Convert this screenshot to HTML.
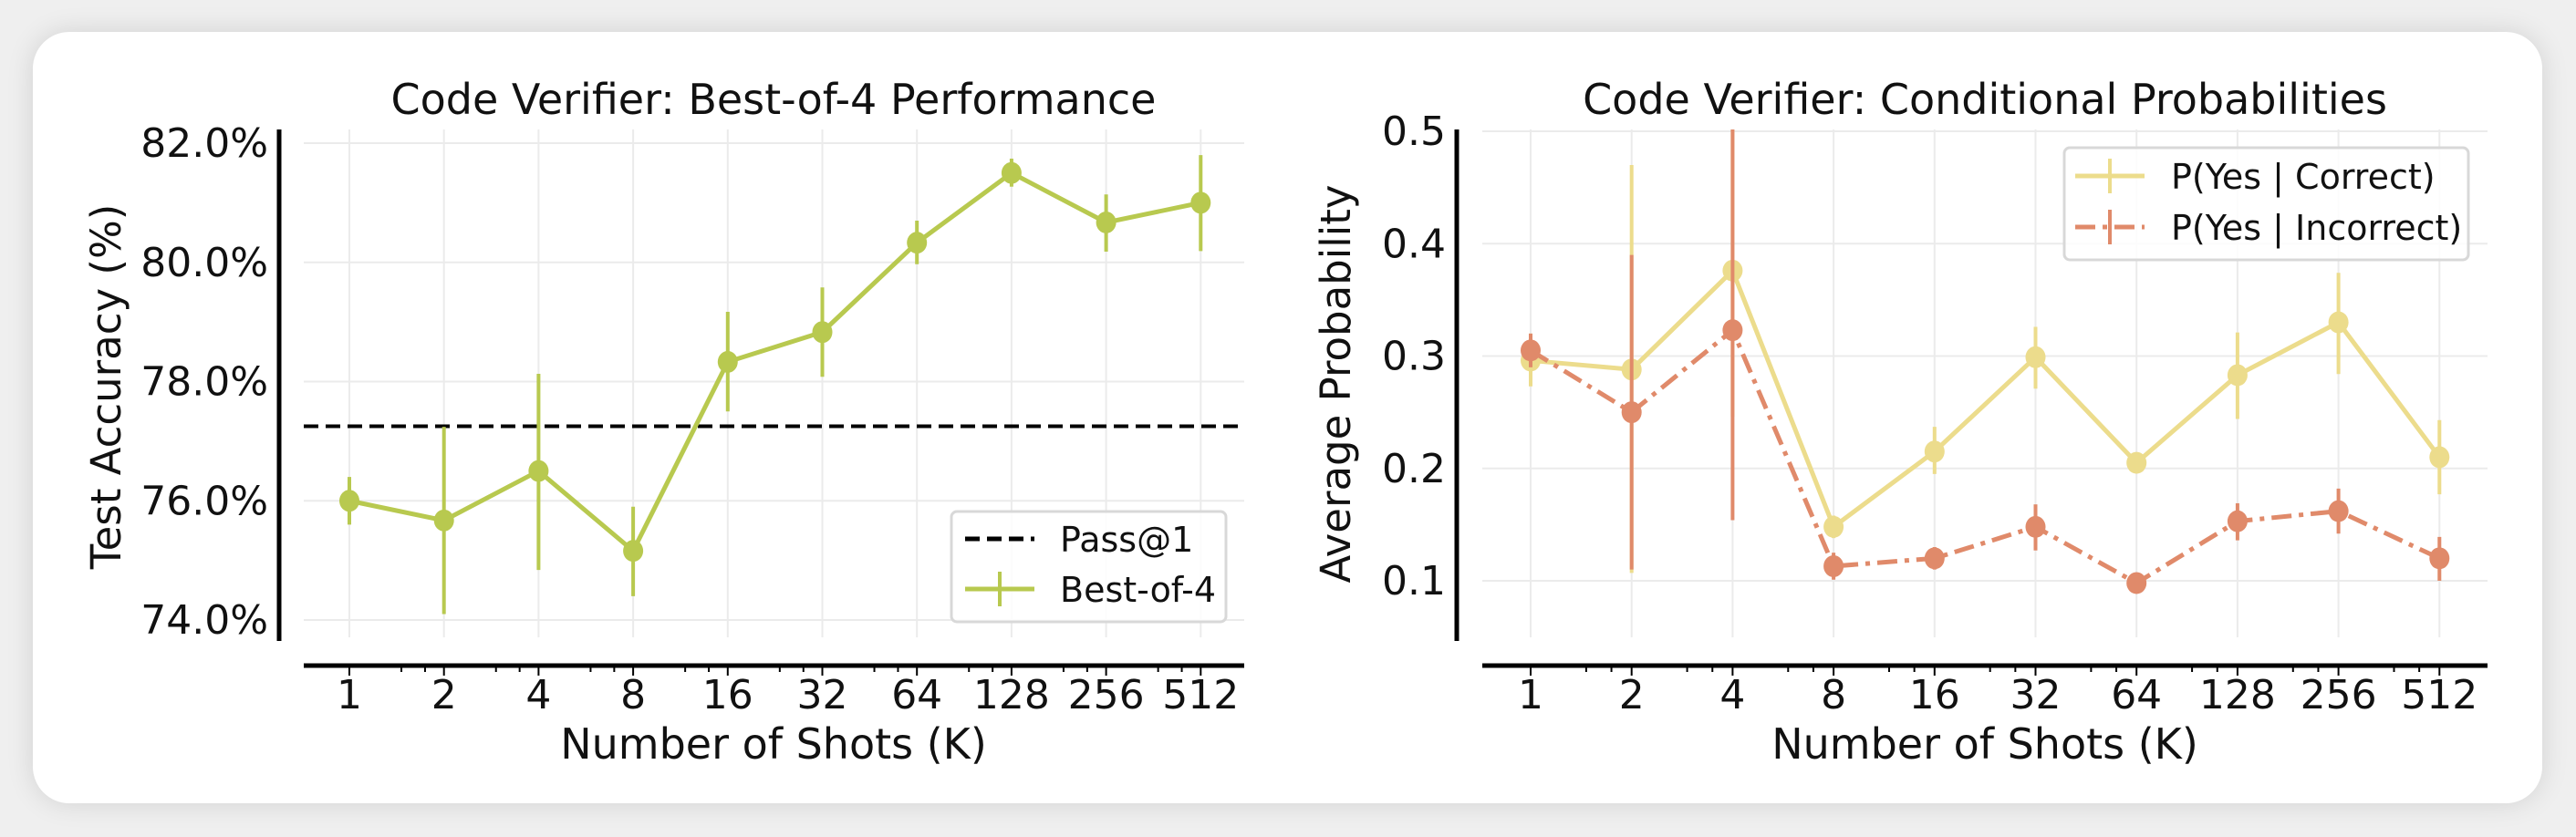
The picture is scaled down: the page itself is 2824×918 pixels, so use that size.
<!DOCTYPE html>
<html><head><meta charset="utf-8"><style>
html,body{margin:0;padding:0;background:#efefef;}
body{width:2824px;height:918px;overflow:hidden;position:relative;font-family:"DejaVu Sans","Liberation Sans",sans-serif;}
#card{position:absolute;left:36px;top:35px;width:2751px;height:846px;background:#fff;border-radius:40px;box-shadow:0 0 30px rgba(0,0,0,0.12);}
svg{position:absolute;left:0;top:0;}
</style></head><body>
<div id="card"></div>
<svg id="chart" width="2824" height="918" font-family="DejaVu Sans, Liberation Sans, sans-serif"></svg>
<script>
const categories=["1","2","4","8","16","32","64","128","256","512"];
const bestOf4=[76.0,75.67,76.5,75.16,78.33,78.83,80.33,81.5,80.67,81.0];
const bestOf4Lo=[75.6,74.1,74.84,74.4,77.5,78.08,79.97,81.27,80.18,80.19];
const bestOf4Hi=[76.4,77.24,78.13,75.9,79.17,79.58,80.7,81.74,81.14,81.8];
const pass1=77.25;
const leftTicks=[74,76,78,80,82];
const pCorrect=[0.296,0.288,0.376,0.148,0.215,0.299,0.205,0.283,0.33,0.21];
const pCorrectLo=[0.273,0.107,0.246,0.138,0.195,0.271,0.197,0.244,0.284,0.177];
const pCorrectHi=[0.32,0.47,0.51,0.158,0.237,0.326,0.213,0.321,0.374,0.243];
const pIncorrect=[0.305,0.25,0.323,0.113,0.12,0.148,0.098,0.153,0.162,0.12];
const pIncorrectLo=[0.29,0.11,0.154,0.101,0.11,0.127,0.093,0.136,0.142,0.10];
const pIncorrectHi=[0.32,0.39,0.51,0.125,0.13,0.168,0.103,0.169,0.182,0.139];
const rightTicks=[0.1,0.2,0.3,0.4,0.5];

const NS="http://www.w3.org/2000/svg";
const svg=document.getElementById('chart');
function mk(tag,attrs,parent){const e=document.createElementNS(NS,tag);for(const k in attrs)e.setAttribute(k,attrs[k]);(parent||svg).appendChild(e);return e;}
function txt(s,attrs){const e=mk('text',attrs);e.textContent=s;return e;}

function panel(o){
  const x=i=>o.x0+i*o.dx;
  const y=v=>o.yBase-(v-o.vBase)*o.ppu;
  const g=mk('g',{});
  
  
  const clipId=o.name+'-clip';
  const cp=mk('clipPath',{id:clipId},svg);mk('rect',{x:o.ax0,y:o.top,width:o.ax1-o.ax0,height:o.bottom-o.top},cp);
  categories.forEach((c,i)=>{const l=mk('line',{x1:x(i),x2:x(i),y1:o.top,y2:o.bottom-4,stroke:'#ebebeb','stroke-width':2},g);
    });
  o.ticks.forEach(t=>{const l=mk('line',{x1:o.ax0,x2:o.ax1,y1:y(t),y2:y(t),stroke:'#ebebeb','stroke-width':2},g);
    
    const tl=txt(o.fmt(t),{x:o.yAxisX-12,y:y(t)+15,'text-anchor':'end','font-size':44,fill:'#111'});
    });
  const ya=mk('line',{x1:o.yAxisX,x2:o.yAxisX,y1:142,y2:703,stroke:'#000','stroke-width':5});
  
  const xa=mk('line',{x1:o.ax0,x2:o.ax1,y1:730,y2:730,stroke:'#000','stroke-width':5});
  
  categories.forEach((c,i)=>{
    mk('line',{x1:x(i),x2:x(i),y1:730,y2:741,stroke:'#000','stroke-width':2});
    if(i<9){mk('line',{x1:x(i)+o.dx*0.55,x2:x(i)+o.dx*0.55,y1:730,y2:737,stroke:'#000','stroke-width':2});
      mk('line',{x1:x(i)+o.dx*0.8,x2:x(i)+o.dx*0.8,y1:730,y2:737,stroke:'#000','stroke-width':2});}
    const tl=txt(c,{x:x(i),y:777,'text-anchor':'middle','font-size':44,fill:'#111'});
    });
  const t=txt(o.title,{x:o.cx,y:125,'text-anchor':'middle','font-size':46,fill:'#111'});
  
  const xt=txt('Number of Shots (K)',{x:o.cx,y:832,'text-anchor':'middle','font-size':46,fill:'#111'});
  
  const yt=txt(o.ytitle,{x:0,y:0,'text-anchor':'middle','font-size':45,fill:'#111',transform:`translate(${o.ytx},${o.yty}) rotate(-90)`});
  
  const dg=mk('g',{'clip-path':`url(#${clipId})`});
  
  return {x,y,dg};
}

function series(p,vals,lo,hi,color,dash,name){
  const g=mk('g',{},p.dg);
  
  
  vals.forEach((v,i)=>{const e=mk('line',{x1:p.x(i),x2:p.x(i),y1:p.y(lo[i]),y2:p.y(hi[i]),stroke:color,'stroke-width':4},g);
    });
  const pl=mk('polyline',{points:vals.map((v,i)=>p.x(i)+','+p.y(v)).join(' '),fill:'none',stroke:color,'stroke-width':5,'stroke-dasharray':dash||'none'},g);
  
  vals.forEach((v,i)=>{const c=mk('ellipse',{cx:p.x(i),cy:p.y(v),rx:11,ry:12,fill:color},g);
    });
}

const GREEN='#b8c94f',YEL='#ecdc8c',ORG='#e08a6a';
const L=panel({name:'best-of-4-panel',x0:383,dx:103.7,yBase:680,vBase:74,ppu:65.375,ax0:333,ax1:1364,top:142,bottom:703,
  yAxisX:306,ticks:leftTicks,fmt:t=>t.toFixed(1)+'%',title:'Code Verifier: Best-of-4 Performance',cx:848,ytitle:'Test Accuracy (%)',ytx:132,yty:424});
const pl1=mk('line',{x1:333,x2:1362,y1:L.y(pass1),y2:L.y(pass1),stroke:'#000','stroke-width':4,'stroke-dasharray':'16,8'},L.dg);

series(L,bestOf4,bestOf4Lo,bestOf4Hi,GREEN,null,'best-of-4-series');

const R=panel({name:'conditional-prob-panel',x0:1678,dx:110.7,yBase:637,vBase:0.1,ppu:1232.5,ax0:1625,ax1:2727,top:142,bottom:703,
  yAxisX:1597,ticks:rightTicks,fmt:t=>t.toFixed(1),title:'Code Verifier: Conditional Probabilities',cx:2176,ytitle:'Average Probability',ytx:1480,yty:421});
series(R,pCorrect,pCorrectLo,pCorrectHi,YEL,null,'p-yes-correct-series');
series(R,pIncorrect,pIncorrectLo,pIncorrectHi,ORG,'22,8,5,8','p-yes-incorrect-series');

function legend(name,x,y,w,h,items){
  const g=mk('g',{});
  
  
  mk('rect',{x,y,width:w,height:h,rx:6,fill:'#fff','fill-opacity':0.85,stroke:'#d8d8d8','stroke-width':3},g);
  items.forEach(it=>{
    const e=mk('g',{},g);
    
    
    mk('line',{x1:it.lx,x2:it.lx+76,y1:it.y,y2:it.y,stroke:it.color,'stroke-width':5,'stroke-dasharray':it.dash||'none'},e);
    if(it.bar)mk('line',{x1:it.lx+38,x2:it.lx+38,y1:it.y-19,y2:it.y+19,stroke:it.color,'stroke-width':4},e);
    const t=mk('text',{x:it.tx,y:it.y+14,'font-size':38,fill:'#111'},e);t.textContent=it.label;
  });
}
legend('left-legend',1043,561,301,121,[
  {lx:1058,tx:1162,y:591,color:'#000',dash:'16,8',label:'Pass@1'},
  {lx:1058,tx:1162,y:646,color:GREEN,bar:true,label:'Best-of-4'}]);
legend('right-legend',2263,162,443,123,[
  {lx:2275,tx:2380,y:193,color:YEL,bar:true,label:'P(Yes | Correct)'},
  {lx:2275,tx:2380,y:249,color:ORG,bar:true,dash:'22,8,5,8',label:'P(Yes | Incorrect)'}]);
</script>
</body></html>
